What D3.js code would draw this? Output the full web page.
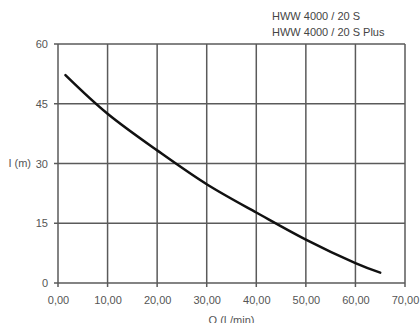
<!DOCTYPE html>
<html>
<head>
<meta charset="utf-8">
<script src="https://cdn.jsdelivr.net/npm/d3@7"></script>
<style>
  body { margin: 0; background: #fff; }
  svg { display: block; font-family: "Liberation Sans", Arial, sans-serif; }
  .tick text { fill: #555; font-size: 11px; }
</style>
</head>
<body>
<div id="chart"></div>
<script>
// pump curve, flow Q (L/min) vs head (m)
var flow = [1.5, 10, 20, 30, 40, 50, 60, 65];
var head = [52.2, 42.5, 33.3, 24.8, 17.7, 10.9, 5.0, 2.6];
var xTicks = [0, 10, 20, 30, 40, 50, 60, 70];
var yTicks = [0, 15, 30, 45, 60];
var titles = ["HWW 4000 / 20 S", "HWW 4000 / 20 S Plus"];

var margin = {top: 44, right: 15, bottom: 40, left: 58},
    width = 420 - margin.left - margin.right,
    height = 323 - margin.top - margin.bottom;

var svg = d3.select("#chart").append("svg")
    .attr("width", 420)
    .attr("height", 323);

var x = d3.scaleLinear().domain([0, 70]).range([0, 347]),
    y = d3.scaleLinear().domain([0, 60]).range([239, 0]);

var g = svg.append("g")
    .attr("transform", "translate(" + margin.left + "," + margin.top + ")");

// grid
g.selectAll(".vgrid")
    .data(xTicks)
  .enter().append("line")
    .attr("x1", function(d) { return x(d); })
    .attr("x2", function(d) { return x(d); })
    .attr("y1", y(60))
    .attr("y2", y(0) + 4)
    .attr("stroke", "#5a5a5a")
    .attr("stroke-width", 1.5);

g.selectAll(".hgrid")
    .data(yTicks)
  .enter().append("line")
    .attr("x1", -4)
    .attr("x2", x(70))
    .attr("y1", function(d) { return y(d); })
    .attr("y2", function(d) { return y(d); })
    .attr("stroke", "#5a5a5a")
    .attr("stroke-width", 1.5);

// axes (labels only, lines drawn by the grid)
g.append("g")
    .attr("transform", "translate(0," + y(0) + ")")
    .call(d3.axisBottom(x).tickValues(xTicks).tickSize(0).tickPadding(13)
      .tickFormat(function(d) { return d3.format(".2f")(d).replace(".", ","); }))
    .call(function(a) { a.select(".domain").remove(); });

g.append("g")
    .call(d3.axisLeft(y).tickValues(yTicks).tickSize(0).tickPadding(10))
    .call(function(a) { a.select(".domain").remove(); });

g.append("text")
    .attr("x", -27)
    .attr("y", y(30))
    .attr("dy", "0.32em")
    .attr("text-anchor", "end")
    .attr("fill", "#555")
    .style("font-size", "11px")
    .text("I (m)");

g.append("text")
    .attr("x", x(35))
    .attr("y", y(0) + 41)
    .attr("text-anchor", "middle")
    .attr("fill", "#555")
    .style("font-size", "11px")
    .text("Q (L/min)");

svg.selectAll(".title")
    .data(titles)
  .enter().append("text")
    .attr("x", 272)
    .attr("y", function(d, i) { return 20 + i * 16; })
    .attr("fill", "#444")
    .style("font-size", "11px")
    .text(function(d) { return d; });

var pts = flow.map(function(q, i) { return [q, head[i]]; });

var line = d3.line()
    .x(function(d) { return x(d[0]); })
    .y(function(d) { return y(d[1]); })
    .curve(d3.curveNatural);

g.append("path")
    .datum(pts)
    .attr("fill", "none")
    .attr("stroke", "#111")
    .attr("stroke-width", 2.5)
    .attr("stroke-linecap", "round")
    .attr("d", line);
</script>
</body>
</html>
